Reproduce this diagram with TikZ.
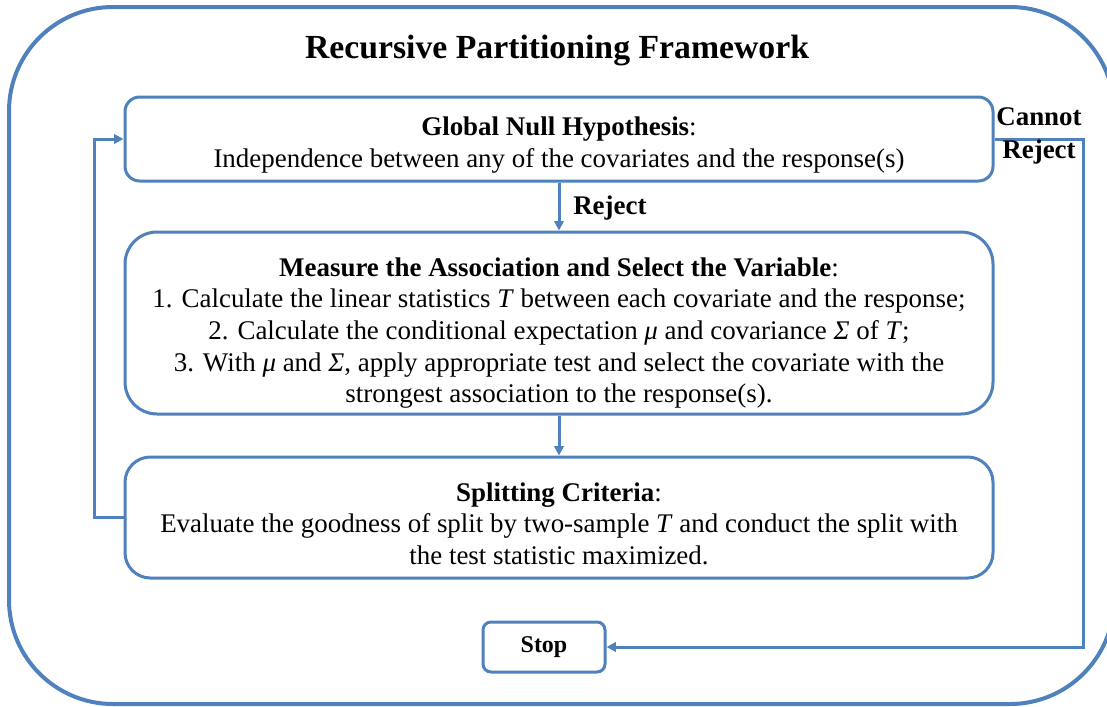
\documentclass[tikz,border=0pt]{standalone}
\usepackage{fontspec}
\setmainfont{Liberation Serif}
\usetikzlibrary{arrows.meta}
\definecolor{frameblue}{RGB}{79,129,189}
\begin{document}
\begin{tikzpicture}[x=0.75pt,y=-0.75pt,
  box/.style={draw=frameblue, line width=2.25pt, fill=white, align=center, font=\fontsize{20.2}{23.7}\selectfont, inner sep=0pt},
  conn/.style={draw=frameblue, line width=2.25pt, -{Triangle[length=7pt,width=7pt]}},
  lab/.style={font=\fontsize{20.2}{24.5}\selectfont\bfseries, inner sep=0pt, align=center}]
\useasboundingbox (0,0) rectangle (1107,707);
\draw[frameblue, line width=3pt, rounded corners=78pt] (9,7) rectangle (1114,704);
\node[font=\fontsize{25.3}{30}\selectfont\bfseries] (title) at (557,51) {Recursive Partitioning Framework};
\node[box, rounded corners=11pt, minimum width=651pt, minimum height=63pt] (g) at (559,139)
  {\rule{0pt}{23pt}\textbf{Global Null Hypothesis}:\\Independence between any of the covariates and the response(s)};
\node[box, rounded corners=24pt, minimum width=651pt, minimum height=136.5pt] (m) at (559,323)
  {\rule{0pt}{29pt}\textbf{Measure the Association and Select the Variable}:\\
   1. Calculate the linear statistics \textit{T} between each covariate and the response;\\
   2. Calculate the conditional expectation \textit{μ} and covariance \textit{Σ} of \textit{T};\\
   3. With \textit{μ} and \textit{Σ}, apply appropriate test and select the covariate with the\\
   strongest association to the response(s).};
\node[box, rounded corners=19pt, minimum width=651pt, minimum height=90.75pt] (s) at (559,517.5)
  {\rule{0pt}{23pt}\textbf{Splitting Criteria}:\\
   Evaluate the goodness of split by two-sample \textit{T} and conduct the split with\\
   the test statistic maximized.};
\node[box, rounded corners=6pt, minimum width=91.5pt, minimum height=37.5pt, font=\fontsize{18}{23.6}\selectfont\bfseries] (stop) at (544,647) {Stop};
\draw[conn] (g.south) -- (m.north);
\draw[conn] (m.south) -- (s.north);
\draw[conn] (s.west) -- ++(-29,0) |- (g.west);
\draw[conn] (g.east) -- ++(89,0) |- (stop.east);
\node[lab, anchor=west] (rej) at (573,208) {Reject};
\node[lab] (crej) at (1039,136) {Cannot\\Reject};
\end{tikzpicture}
\end{document}
